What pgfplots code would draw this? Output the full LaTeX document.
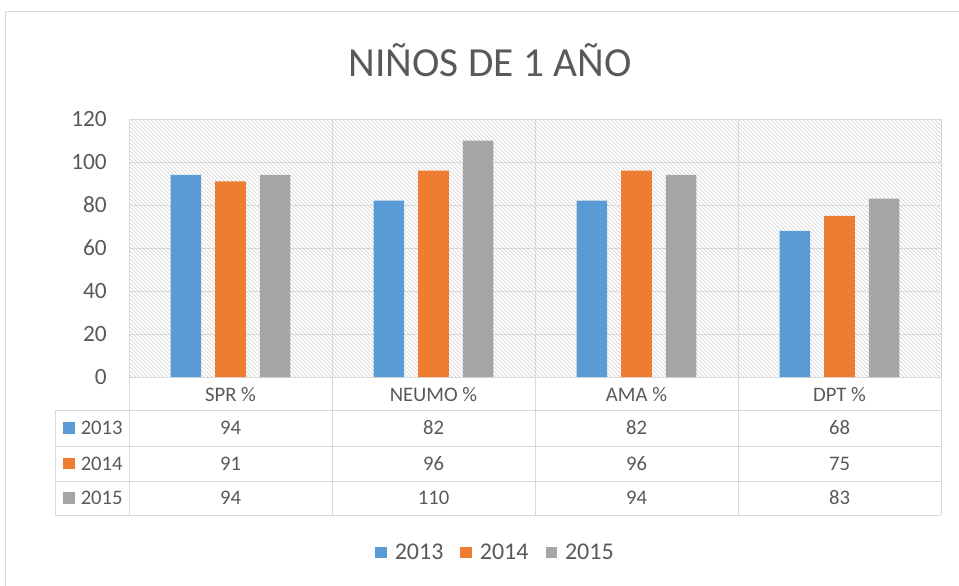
\documentclass[border=0pt]{standalone}
\usepackage{fontspec}
\setmainfont{Carlito}
\usepackage{pgfplots}
\usepackage{pgfplotstable}
\pgfplotsset{compat=1.18}
\usetikzlibrary{patterns}
\definecolor{c13}{HTML}{5B9BD5}
\definecolor{c14}{HTML}{ED7D31}
\definecolor{c15}{HTML}{A5A5A5}
\definecolor{txt}{HTML}{595959}
\definecolor{gridc}{HTML}{D9D9D9}
\definecolor{hatch}{HTML}{D0D0D0}

\pgfplotstableread{
cat y13 y14 y15
0 94 91 94
1 82 96 110
2 82 96 94
3 68 75 83
}\datatable

\pgfplotsset{sqlegend/.style={legend image code/.code={\fill[##1,draw=none] (0pt,-4.3pt) rectangle (8.6pt,4.3pt);}}}

\begin{document}
\begin{tikzpicture}
\begin{scope}[x=0.75pt,y=-0.75pt]
\useasboundingbox (0,0) rectangle (959,585);
\draw[gridc, line width=0.75pt] (5,12) rectangle (1000,620);
\node[txt, font=\fontsize{31}{36}\selectfont, anchor=base, inner sep=0pt] at (490,76) {NIÑOS DE 1 AÑO};
\end{scope}
\begin{axis}[at={(96.75pt,-282.75pt)}, anchor=south west, scale only axis,
  width=609pt, height=193.5pt,
  xmin=-0.5, xmax=3.5, ymin=0, ymax=120, ytick={0,20,...,120},
  xtick={0,1,2,3}, xticklabels={SPR \%, NEUMO \%, AMA \%, DPT \%},
  major tick length=0pt, tick style={draw=none},
  axis line style={draw=gridc, line width=0.75pt},
  ymajorgrids, grid style={draw=gridc, line width=0.75pt},
  axis background/.style={pattern=north west lines, pattern color=hatch},
  tick label style={text=txt},
  yticklabel style={font=\fontsize{17.5}{21}\selectfont, anchor=east, inner sep=0pt, xshift=-16.5pt},
  xticklabel style={font=\fontsize{15.5}{18}\selectfont, anchor=base, yshift=-18.4pt},
  /pgf/number format/assume math mode=true,
  clip=false,
  legend columns=3,
  legend style={at={(0.4501,-0.680)}, anchor=center, draw=none, fill=none, inner sep=0pt,
    font=\fontsize{18}{21}\selectfont, text=txt,
    nodes={inner sep=0pt},
    /tikz/every odd column/.append style={column sep=6pt},
    /tikz/every even column/.append style={column sep=12.75pt}},
]
\addplot[ybar, bar width=22.9pt, bar shift=-33.4pt, fill=c13, draw=none, sqlegend] table[x=cat,y=y13]{\datatable};
\addplot[ybar, bar width=22.9pt, bar shift=0pt, fill=c14, draw=none, sqlegend] table[x=cat,y=y14]{\datatable};
\addplot[ybar, bar width=22.9pt, bar shift=33.4pt, fill=c15, draw=none, sqlegend] table[x=cat,y=y15]{\datatable};
\legend{2013,2014,2015}
\end{axis}
\begin{scope}[x=0.75pt,y=-0.75pt]
\begin{scope}[draw=gridc, line width=0.75pt]
\foreach \yy in {410,446,481,515} {\draw (55,\yy) -- (941,\yy);}
\draw (55,410) -- (55,515);
\draw (129,377) -- (129,515);
\draw (941,377) -- (941,515);
\foreach \xx in {332,535,738} {\draw (\xx,119) -- (\xx,515);}
\end{scope}
\foreach \c/\col/\yc/\lab in {c13/y13/428/2013, c14/y14/463.5/2014, c15/y15/498/2015} {
  \fill[\c] (63,\yc-5.75) rectangle (74.5,\yc+5.75);
  \node[txt, font=\fontsize{15.5}{18}\selectfont, anchor=base west, inner sep=0pt] at (80.5,\yc+6.6) {\lab};
  \foreach \r in {0,1,2,3} {
    \pgfplotstablegetelem{\r}{\col}\of\datatable
    \node[txt, font=\fontsize{15.5}{18}\selectfont, anchor=base, inner sep=0pt] at (230.5+203*\r,\yc+6.6) {\pgfplotsretval};
  }
}
\end{scope}
\end{tikzpicture}
\end{document}
